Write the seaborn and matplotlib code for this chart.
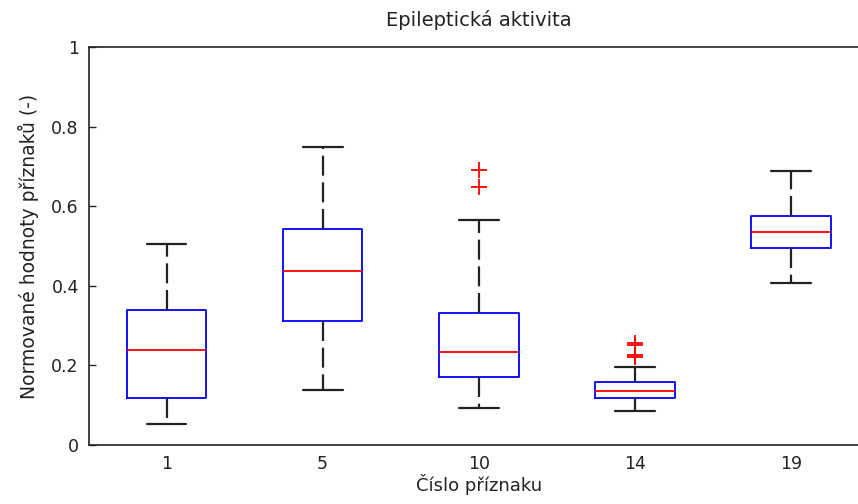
import matplotlib
matplotlib.use("Agg")
import matplotlib.pyplot as plt
import seaborn as sns
import pandas as pd

# --- data ---
features = ["1", "5", "10", "14", "19"]
f1 = [0.054, 0.117, 0.238, 0.338, 0.504]
f5 = [0.138, 0.311, 0.436, 0.543, 0.750]
f10 = [0.094, 0.120, 0.150, 0.171, 0.190, 0.210, 0.233, 0.260, 0.300, 0.332,
       0.566, 0.647, 0.692]
f14 = [0.086, 0.095, 0.102, 0.108, 0.113, 0.117, 0.121, 0.125, 0.129, 0.132,
       0.135, 0.139, 0.144, 0.149, 0.154, 0.158, 0.197, 0.222, 0.226, 0.251,
       0.256]
f19 = [0.408, 0.4945, 0.536, 0.5747, 0.6875]
ytick_vals = [0, 0.2, 0.4, 0.6, 0.8, 1]
ytick_labels = ["0", "0.2", "0.4", "0.6", "0.8", "1"]

series = [f1, f5, f10, f14, f19]
df = pd.DataFrame({
    "feature": [f for f, vals in zip(features, series) for _ in vals],
    "value": [v for vals in series for v in vals],
})

sns.set_theme(style="white")
plt.rcParams["font.family"] = ["DejaVu Sans"]

fig = plt.figure(figsize=(8.58, 5.04), dpi=100)
ax = fig.add_axes([88.5 / 858, 59 / 504, 780.5 / 858, 398 / 504])

sns.boxplot(
    data=df, x="feature", y="value", order=features, ax=ax,
    width=0.51, fill=False, color="blue", linewidth=1.3, whis=1.5,
    medianprops=dict(color="red", linewidth=1.3),
    whiskerprops=dict(color="#222222", linestyle=(0, (9, 3)), linewidth=1.6),
    capprops=dict(color="#222222", linewidth=1.6),
    flierprops=dict(marker="+", markeredgecolor="red", markerfacecolor="red",
                    markersize=11, markeredgewidth=1.3),
)

ax.set_xlim(-0.5, 4.5)
ax.set_ylim(0, 1)
ax.set_yticks(ytick_vals)
ax.set_yticklabels(ytick_labels)
ax.tick_params(axis="y", direction="in", length=5, width=1, left=True,
               labelsize=12.5, pad=7, colors="#222222")
ax.tick_params(axis="x", length=0, labelsize=12.5, pad=7, colors="#222222")
for s in ax.spines.values():
    s.set_color("#222222")
    s.set_linewidth(1.2)

ax.set_title("Epileptická aktivita", fontsize=14, pad=15, color="#222222")
ax.set_xlabel("Číslo příznaku", fontsize=13, labelpad=1, color="#222222")
ax.set_ylabel("Normované hodnoty příznaků (-)", fontsize=13.5, labelpad=9,
              color="#222222")

fig.savefig("out.png", dpi=100)
